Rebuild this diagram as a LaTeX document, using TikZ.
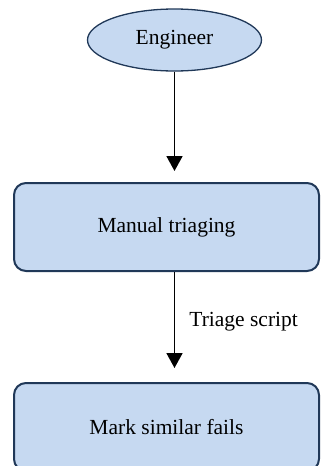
\documentclass[tikz,border=0pt]{standalone}
\usepackage{fontspec}
\setmainfont{Liberation Serif}
\newfontfamily\labelfont{Liberation Serif}
\usetikzlibrary{arrows.meta,shapes.geometric}

\definecolor{boxfill}{RGB}{198,217,241}
\definecolor{boxline}{RGB}{32,56,88}

\begin{document}
\begin{tikzpicture}[x=1pt,y=1pt,
  font=\labelfont\fontsize{21.5}{25}\selectfont,
  start node/.style={ellipse,draw=boxline,fill=boxfill,line width=1.3pt,
    minimum width=174pt,minimum height=62pt,inner sep=0pt},
  main node/.style={rectangle,rounded corners=12pt,draw=boxline,fill=boxfill,
    line width=2pt,minimum width=305pt,minimum height=88pt,inner sep=0pt}]

  \clip (0,0) rectangle (321,-466);

  \node[start node] (1) at (174.5,-40) {Engineer};
  \node[main node] (2) at (166.5,-227) {Manual triaging};
  \node[main node] (3) at (166.5,-427) {Mark similar fails};

  \path[-{Triangle[width=16pt,length=15pt]},line width=1.8pt]
   (1) edge[shorten >=11pt] (1 |- 2.north)
   (1 |- 2.south) edge[shorten >=14pt]
      node[pos=0.45,anchor=west,inner sep=0pt,xshift=14pt]{Triage script}
      (1 |- 3.north);
\end{tikzpicture}
\end{document}
